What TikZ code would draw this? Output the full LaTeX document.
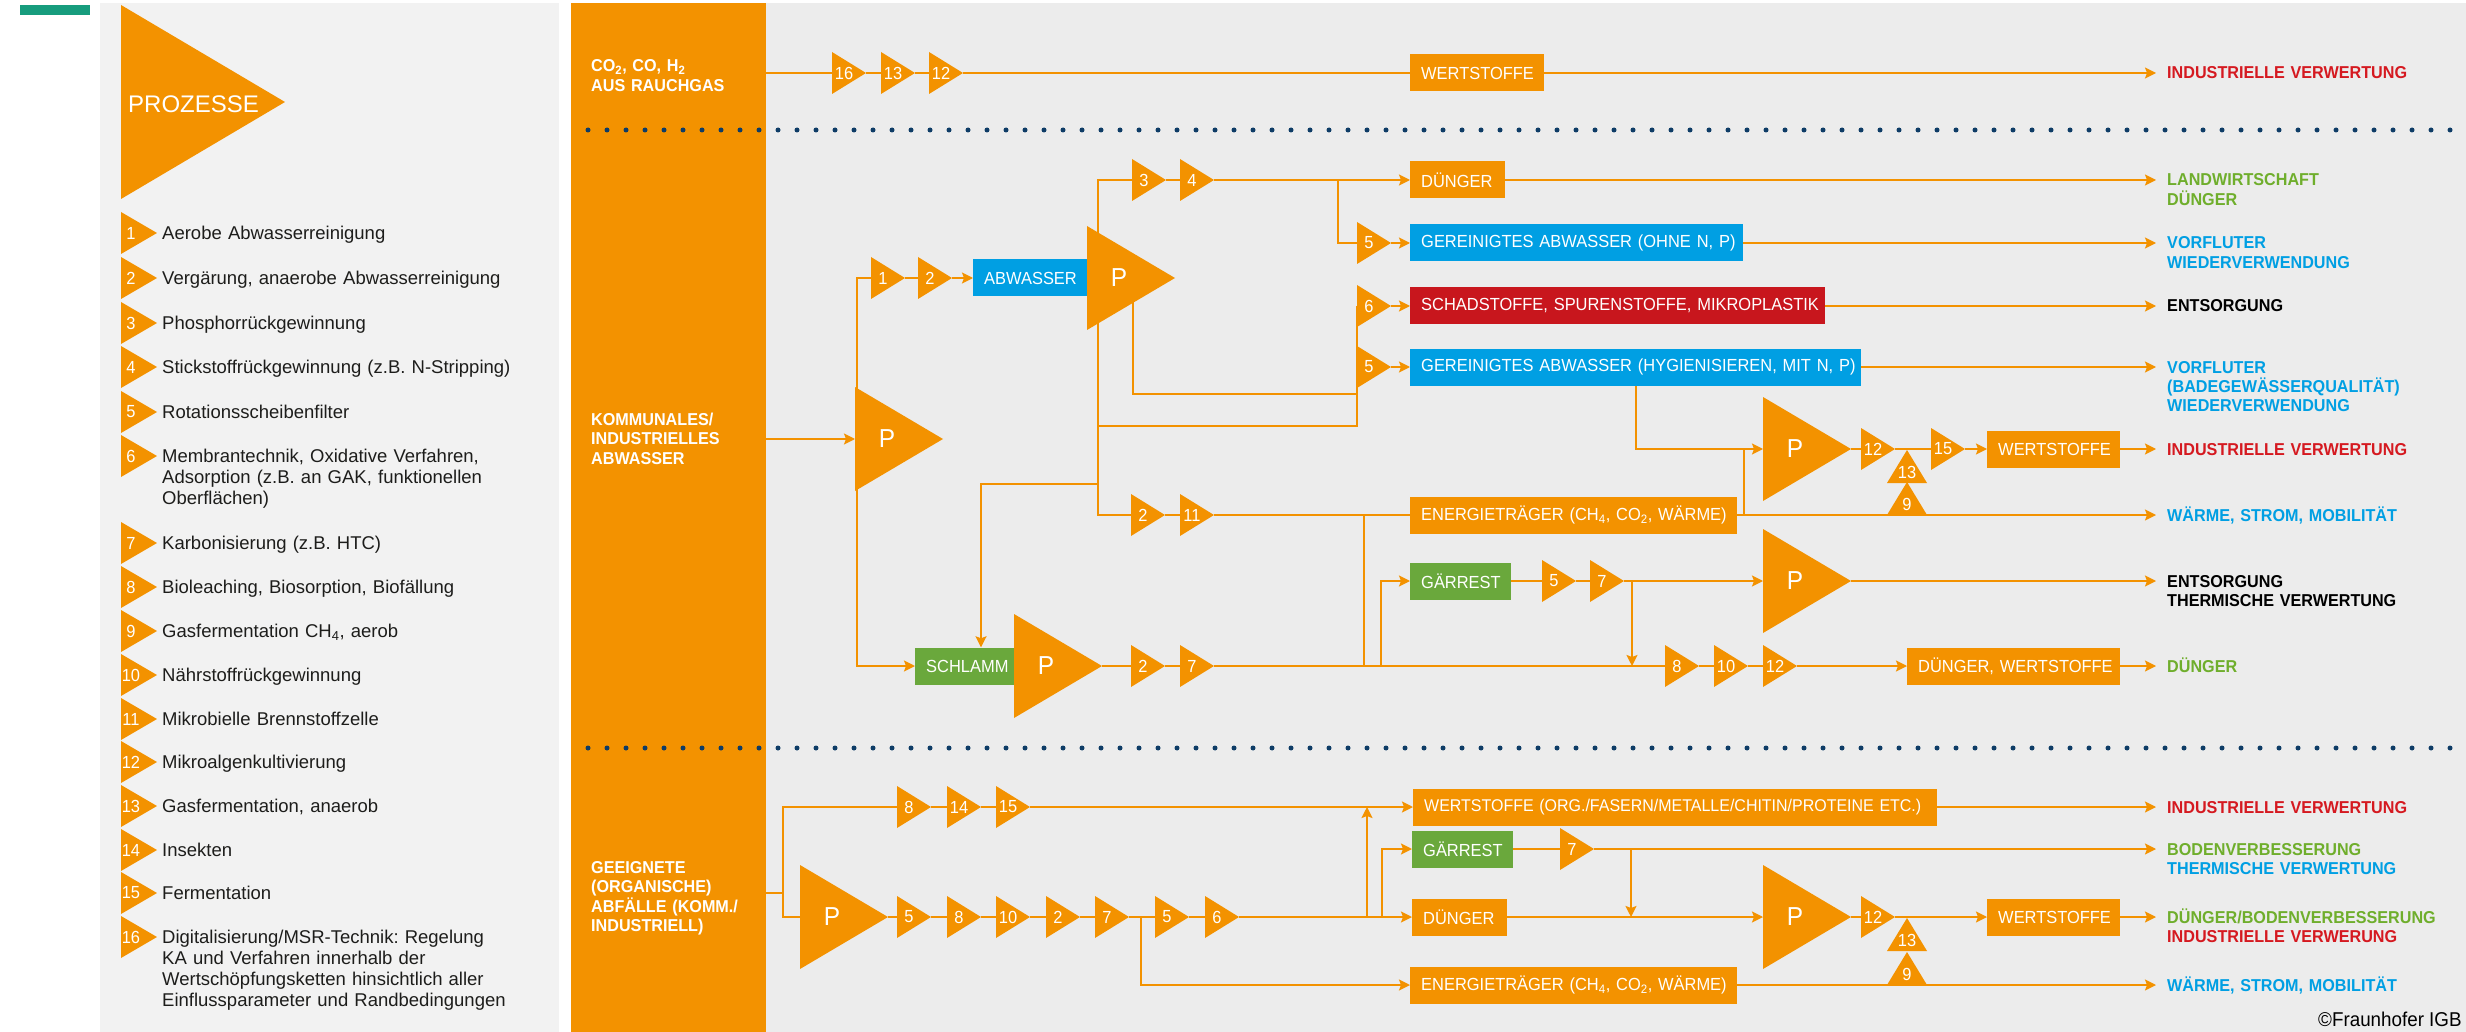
\documentclass[tikz,border=0pt]{standalone}
\usepackage{fontspec}
\setmainfont{Liberation Sans}
\newfontfamily\cnd{Liberation Sans}[FakeStretch=0.94]
\usetikzlibrary{arrows.meta}
\frenchspacing

\definecolor{fhorange}{HTML}{F39200}
\definecolor{fhcyan}{HTML}{009FE3}
\definecolor{fhred}{HTML}{C8161D}
\definecolor{fhtred}{HTML}{D51920}
\definecolor{fhgreen}{HTML}{6AA83C}
\definecolor{fhtgreen}{HTML}{6FAE2C}
\definecolor{fhnavy}{HTML}{0E3C66}
\definecolor{fhteal}{HTML}{179C7D}
\definecolor{diagbg}{HTML}{ECECEC}
\definecolor{legbg}{HTML}{F2F2F2}
\definecolor{legtext}{HTML}{1D1D1B}

\newcommand\boxfont{\cnd\fontsize{17.5}{20}\selectfont}
\newcommand\labfont{\cnd\bfseries\fontsize{17.2}{19.5}\selectfont}
\newcommand\numfont{\cnd\fontsize{17.5}{20}\selectfont}
\newcommand\legfont{\fontsize{18.5}{21}\selectfont}

\pgfdeclarelayer{canvas}
\pgfdeclarelayer{wires}
\pgfsetlayers{canvas,wires,main}

\tikzset{
  flow/.style={draw=fhorange, line width=2pt},
  flowtip/.style={-{Stealth[length=11pt,width=11pt,inset=2pt]}},
  box/.style={rectangle, inner xsep=11pt, inner ysep=0pt, minimum height=37pt, text width=#1-22pt,
    execute at begin node=\hbox\bgroup, execute at end node=\egroup,
    text=white, font=\boxfont, anchor=west},
  num/.style={text=white, font=\numfont, inner sep=0pt},
  plabel/.style={text=white, font=\cnd\fontsize{26}{28}\selectfont, inner sep=0pt},
  lab/.style={anchor=base west, inner sep=0pt, font=\labfont, text width=300pt, align=left},
  collab/.style={anchor=base west, inner sep=0pt, font=\labfont, text=white, text width=170pt, align=left},
  legtxt/.style={anchor=base west, inner sep=0pt, font=\legfont, text=legtext, text width=390pt, align=left},
}

% small process triangle: name, left x, mid y, number
\newcommand{\proc}[4]{%
  \fill[fhorange] (#2,#3-21) -- (#2+34,#3) -- (#2,#3+21) -- cycle;
  \node[num] (#1) at (#2+12,#3) {#4};
  \coordinate (#1-in) at (#2,#3);
  \coordinate (#1-out) at (#2+34,#3);
}
% big P triangle: name, left x, mid y
\newcommand{\bigp}[3]{%
  \fill[fhorange] (#2,#3-52) -- (#2+88,#3) -- (#2,#3+52) -- cycle;
  \node[plabel] (#1) at (#2+32,#3) {P};
  \coordinate (#1-in) at (#2,#3);
  \coordinate (#1-out) at (#2+88,#3);
}
% upward triangle: name, apex x, base y, number
\newcommand{\upproc}[4]{%
  \fill[fhorange] (#2-20,#3) -- (#2,#3-33) -- (#2+20,#3) -- cycle;
  \node[num] (#1) at (#2,#3-11) {#4};
}

\begin{document}
\begin{tikzpicture}[x=1pt,y=-1pt]
\useasboundingbox (0,0) rectangle (2466,1032);

% BACKGROUND
\begin{pgfonlayer}{canvas}
  \fill[white] (0,0) rectangle (2466,1032);
  \fill[fhteal] (20,5) rectangle (90,15);
  \fill[legbg] (100,3) rectangle (559,1032);
  \fill[diagbg] (766,3) rectangle (2466,1032);
  \fill[fhorange] (571,3) rectangle (766,1032);
  \foreach \x in {588,607,...,2466} {
    \fill[fhnavy] (\x,130) circle (2.5pt);
    \fill[fhnavy] (\x,748) circle (2.5pt);
  }
\end{pgfonlayer}

% LEGEND
\fill[fhorange] (121,5) -- (285,102) -- (121,199) -- cycle;
\node[anchor=west, text=white, font=\fontsize{24}{28}\selectfont, inner sep=0pt] (title) at (128,104) {PROZESSE};
\foreach \nr/\yy/\txt in {
  1/233/{Aerobe Abwasserreinigung},
  2/278/{Vergärung, anaerobe Abwasserreinigung},
  3/323/{Phosphorrückgewinnung},
  4/367/{Stickstoffrückgewinnung (z.B. N-Stripping)},
  5/412/{Rotationsscheibenfilter},
  6/456/{Membrantechnik, Oxidative Verfahren,\\Adsorption (z.B. an GAK, funktionellen\\Oberflächen)},
  7/543/{Karbonisierung (z.B. HTC)},
  8/587/{Bioleaching, Biosorption, Biofällung},
  9/631/{Gasfermentation CH\textsubscript{4}, aerob},
  10/675/{Nährstoffrückgewinnung},
  11/719/{Mikrobielle Brennstoffzelle},
  12/762/{Mikroalgenkultivierung},
  13/806/{Gasfermentation, anaerob},
  14/850/{Insekten},
  15/893/{Fermentation},
  16/937/{Digitalisierung/MSR-Technik: Regelung\\KA und Verfahren innerhalb der\\Wertschöpfungsketten hinsichtlich aller\\Einflussparameter und Randbedingungen}} {
  \fill[fhorange] (121,\yy-21) -- (157,\yy) -- (121,\yy+21) -- cycle;
  \node[num] (n\nr) at (131,\yy) {\nr};
  \node[legtxt] (d\nr) at (162,\yy+6.5) {\txt};
}

% SOURCES
\node[collab] (c0) at (591,72) {CO\textsubscript{2}, CO, H\textsubscript{2}\\AUS RAUCHGAS};
\node[collab] (c1) at (591,425) {KOMMUNALES/\\INDUSTRIELLES\\ABWASSER};
\node[collab] (c2) at (591,873) {GEEIGNETE\\(ORGANISCHE)\\ABFÄLLE (KOMM./\\INDUSTRIELL)};
\coordinate (src0) at (766,73);
\coordinate (src1) at (766,439);
\coordinate (src2) at (766,893);

% top row
\proc{p16}{832}{73}{16}
\proc{p13a}{881}{73}{13}
\proc{p12a}{929}{73}{12}
\node[box=134pt, fill=fhorange] (wst0) at (1410,73) {WERTSTOFFE};

% waste water
\bigp{kP}{855}{439}
\proc{p1}{871}{278}{1}
\proc{p2a}{918}{278}{2}
\node[box=115pt, fill=fhcyan] (abw) at (973,278) {ABWASSER};
\bigp{aP}{1087}{278}
\proc{p3}{1132}{180}{3}
\proc{p4}{1180}{180}{4}
\node[box=95pt, fill=fhorange] (dng1) at (1410,180) {DÜNGER};
\proc{p5a}{1357}{243}{5}
\node[box=333pt, fill=fhcyan] (gab1) at (1410,243) {GEREINIGTES ABWASSER (OHNE N, P)};
\proc{p6a}{1357}{306}{6}
\node[box=415pt, fill=fhred] (schad) at (1410,306) {SCHADSTOFFE, SPURENSTOFFE, MIKROPLASTIK};
\proc{p5b}{1357}{367}{5}
\node[box=451pt, fill=fhcyan] (gab2) at (1410,367) {GEREINIGTES ABWASSER (HYGIENISIEREN, MIT N, P)};
\bigp{uP}{1763}{449}
\proc{p12b}{1861}{449}{12}
\proc{p15a}{1931}{449}{15}
\node[box=133pt, fill=fhorange] (wst1) at (1987,449) {WERTSTOFFE};
\upproc{p13b}{1907}{483}{13}
\upproc{p9a}{1907}{515}{9}
\proc{p2b}{1131}{515}{2}
\proc{p11}{1180}{515}{11}
\node[box=327pt, fill=fhorange] (eng1) at (1410,515) {ENERGIETRÄGER (CH\textsubscript{4}, CO\textsubscript{2}, WÄRME)};
\node[box=101pt, fill=fhgreen] (gar1) at (1410,581) {GÄRREST};
\proc{p5c}{1542}{581}{5}
\proc{p7a}{1590}{581}{7}
\bigp{lP}{1763}{581}
\node[box=101pt, fill=fhgreen] (schl) at (915,666) {SCHLAMM};
\bigp{sP}{1014}{666}
\proc{p2c}{1131}{666}{2}
\proc{p7b}{1180}{666}{7}
\proc{p8a}{1665}{666}{8}
\proc{p10a}{1714}{666}{10}
\proc{p12c}{1763}{666}{12}
\node[box=213pt, fill=fhorange] (dw) at (1907,666) {DÜNGER, WERTSTOFFE};

% organic waste
\bigp{bP}{800}{917}
\proc{p8b}{897}{807}{8}
\proc{p14}{947}{807}{14}
\proc{p15b}{996}{807}{15}
\proc{p5d}{897}{917}{5}
\proc{p8c}{947}{917}{8}
\proc{p10b}{996}{917}{10}
\proc{p2d}{1046}{917}{2}
\proc{p7c}{1095}{917}{7}
\proc{p5e}{1155}{917}{5}
\proc{p6b}{1205}{917}{6}
\node[box=524pt, fill=fhorange, font=\cnd\fontsize{17}{20}\selectfont] (wst2) at (1413,807) {WERTSTOFFE (ORG./FASERN/METALLE/CHITIN/PROTEINE ETC.)};
\node[box=101pt, fill=fhgreen] (gar2) at (1412,849) {GÄRREST};
\proc{p7d}{1560}{849}{7}
\node[box=95pt, fill=fhorange] (dng2) at (1412,917) {DÜNGER};
\bigp{rP}{1763}{917}
\proc{p12d}{1861}{917}{12}
\upproc{p13c}{1907}{951}{13}
\upproc{p9b}{1907}{985}{9}
\node[box=133pt, fill=fhorange] (wst3) at (1987,917) {WERTSTOFFE};
\node[box=327pt, fill=fhorange] (eng2) at (1410,985) {ENERGIETRÄGER (CH\textsubscript{4}, CO\textsubscript{2}, WÄRME)};

% OUTPUTS
\foreach \nr/\yy in {0/73,1/180,2/243,3/306,4/367,5/449,6/515,7/581,8/666,9/807,10/849,11/917,12/985}
  \coordinate (o\nr) at (2156,\yy);
\node[lab, text=fhtred] (l0) at (2167,79) {INDUSTRIELLE VERWERTUNG};
\node[lab, text=fhtgreen] (l1) at (2167,186) {LANDWIRTSCHAFT\\DÜNGER};
\node[lab, text=fhcyan] (l2) at (2167,249) {VORFLUTER\\WIEDERVERWENDUNG};
\node[lab, text=black] (l3) at (2167,312) {ENTSORGUNG};
\node[lab, text=fhcyan] (l4) at (2167,373) {VORFLUTER\\(BADEGEWÄSSERQUALITÄT)\\WIEDERVERWENDUNG};
\node[lab, text=fhtred] (l5) at (2167,455) {INDUSTRIELLE VERWERTUNG};
\node[lab, text=fhcyan] (l6) at (2167,521) {WÄRME, STROM, MOBILITÄT};
\node[lab, text=black] (l7) at (2167,587) {ENTSORGUNG\\THERMISCHE VERWERTUNG};
\node[lab, text=fhtgreen] (l8) at (2167,672) {DÜNGER};
\node[lab, text=fhtred] (l9) at (2167,813) {INDUSTRIELLE VERWERTUNG};
\node[lab, text=fhtgreen] (l10) at (2167,855) {BODENVERBESSERUNG\\{\color{fhcyan}THERMISCHE VERWERTUNG}};
\node[lab, text=fhtgreen] (l11) at (2167,923) {DÜNGER/BODENVERBESSERUNG\\{\color{fhtred}INDUSTRIELLE VERWERUNG}};
\node[lab, text=fhcyan] (l12) at (2167,991) {WÄRME, STROM, MOBILITÄT};
\node[anchor=west, inner sep=0pt, font=\cnd\fontsize{20}{24}\selectfont] (copy) at (2318,1019) {©Fraunhofer IGB};

% CONNECTORS
\begin{pgfonlayer}{wires}
  % top row
  \draw[flow] (src0) -- (p16-in) (p16-out) -- (p13a-in) (p13a-out) -- (p12a-in) (p12a-out) -- (wst0.west);
  \draw[flow,flowtip] (wst0.east) -- (o0);
  % waste water
  \draw[flow,flowtip] (src1) -- (kP-in);
  \coordinate (k1) at (857,278);
  \coordinate (k2) at (857,666);
  \draw[flow,flowtip] (p1-in) -- (k1) -- (k2) -- (schl.west);
  \draw[flow] (p1-out) -- (p2a-in);
  \draw[flow,flowtip] (p2a-out) -- (abw.west);
  \coordinate (a1) at (1098,180);
  \coordinate (a2) at (1098,515);
  \draw[flow] (p3-in) -- (a1) -- (a2) -- (p2b-in);
  \draw[flow] (p3-out) -- (p4-in);
  \draw[flow,flowtip] (p4-out) -- (dng1.west);
  \coordinate (d1) at (1338,180);
  \draw[flow] (d1) |- (p5a-in);
  \draw[flow,flowtip] (p5a-out) -- (gab1.west);
  \draw[flow,flowtip] (p6a-out) -- (schad.west);
  \draw[flow,flowtip] (p5b-out) -- (gab2.west);
  \coordinate (a3) at (1098,426);
  \draw[flow] (a3) -| (p6a-in);
  \coordinate (a4) at (1133,300);
  \coordinate (b1) at (1357,394);
  \draw[flow] (a4) |- (b1);
  \coordinate (a5) at (1098,484);
  \coordinate (s1) at (981,484);
  \draw[flow,flowtip] (a5) -- (s1) -- (s1 |- schl.north);
  \draw[flow,flowtip] (dng1.east) -- (o1);
  \draw[flow,flowtip] (gab1.east) -- (o2);
  \draw[flow,flowtip] (schad.east) -- (o3);
  \draw[flow,flowtip] (gab2.east) -- (o4);
  \coordinate (g1) at (1636,386);
  \draw[flow,flowtip] (g1) |- (uP-in);
  \draw[flow] (p2b-out) -- (p11-in) (p11-out) -- (eng1.west);
  \draw[flow,flowtip] (eng1.east) -- (o6);
  \coordinate (e1) at (1744,515);
  \draw[flow] (e1) -- (e1 |- uP-in);
  \draw[flow] (uP-out) -- (p12b-in) (p12b-out) -- (p15a-in);
  \draw[flow,flowtip] (p15a-out) -- (wst1.west);
  \draw[flow,flowtip] (wst1.east) -- (o5);
  \coordinate (e2) at (1364,515);
  \coordinate (e3) at (1364,666);
  \draw[flow] (e2) -- (e3);
  \coordinate (e4) at (1381,666);
  \draw[flow,flowtip] (e4) |- (gar1.west);
  \draw[flow] (gar1.east) -- (p5c-in) (p5c-out) -- (p7a-in);
  \draw[flow,flowtip] (p7a-out) -- (lP-in);
  \coordinate (f1) at (1632,581);
  \coordinate (f2) at (1632,666);
  \draw[flow,flowtip] (f1) -- (f2);
  \draw[flow,flowtip] (lP-out) -- (o7);
  \draw[flow] (sP-out) -- (p2c-in) (p2c-out) -- (p7b-in) (p7b-out) -- (p8a-in)
              (p8a-out) -- (p10a-in) (p10a-out) -- (p12c-in);
  \draw[flow,flowtip] (p12c-out) -- (dw.west);
  \draw[flow,flowtip] (dw.east) -- (o8);
  % organic waste
  \coordinate (c3) at (783,893);
  \draw[flow] (src2) -- (c3);
  \draw[flow] (p8b-in) -| (c3) |- (bP-in);
  \draw[flow] (p8b-out) -- (p14-in) (p14-out) -- (p15b-in);
  \draw[flow,flowtip] (p15b-out) -- (wst2.west);
  \draw[flow] (bP-out) -- (p5d-in) (p5d-out) -- (p8c-in) (p8c-out) -- (p10b-in)
              (p10b-out) -- (p2d-in) (p2d-out) -- (p7c-in) (p7c-out) -- (p5e-in)
              (p5e-out) -- (p6b-in);
  \draw[flow,flowtip] (p6b-out) -- (dng2.west);
  \coordinate (h0) at (1141,917);
  \draw[flow,flowtip] (h0) |- (eng2.west);
  \coordinate (h1) at (1367,917);
  \coordinate (h2) at (1367,807);
  \draw[flow,flowtip] (h1) -- (h2);
  \coordinate (h3) at (1382,917);
  \draw[flow,flowtip] (h3) |- (gar2.west);
  \draw[flow] (gar2.east) -- (p7d-in);
  \draw[flow,flowtip] (p7d-out) -- (o10);
  \coordinate (f3) at (1631,849);
  \coordinate (f4) at (1631,917);
  \draw[flow,flowtip] (f3) -- (f4);
  \draw[flow,flowtip] (dng2.east) -- (rP-in);
  \draw[flow] (rP-out) -- (p12d-in);
  \draw[flow,flowtip] (p12d-out) -- (wst3.west);
  \draw[flow,flowtip] (wst3.east) -- (o11);
  \draw[flow,flowtip] (wst2.east) -- (o9);
  \draw[flow,flowtip] (eng2.east) -- (o12);
\end{pgfonlayer}
\end{tikzpicture}
\end{document}
